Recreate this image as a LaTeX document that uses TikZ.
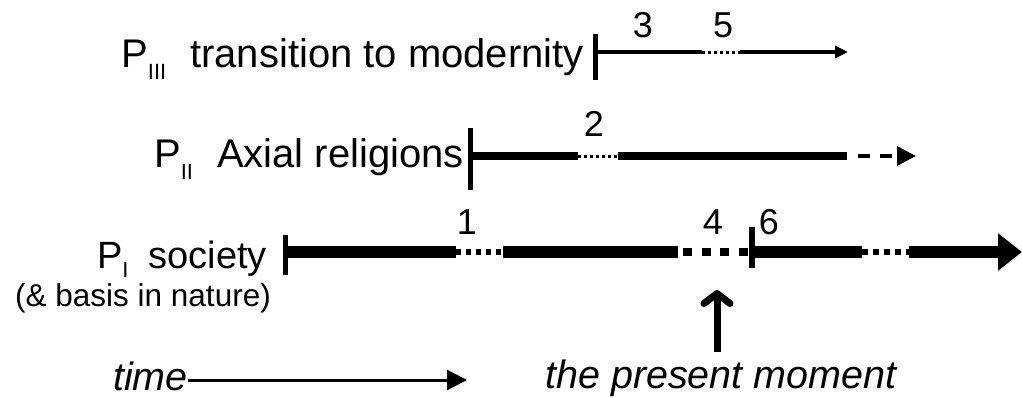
\documentclass[tikz,border=0pt]{standalone}
\usepackage{fontspec}
\setmainfont{Liberation Sans}
\usetikzlibrary{arrows.meta}
\newcommand{\sbs}[2][12pt]{\raisebox{-#1}{\fontsize{22}{22}\selectfont #2}}
\begin{document}
\begin{tikzpicture}[x=1pt,y=-1pt,
  lbl/.style={inner sep=0pt, font=\fontsize{40}{42}\selectfont},
  num/.style={inner sep=0pt, font=\fontsize{36}{38}\selectfont},
  tickmark/.style={line width=5pt},
  thin3/.style={line width=4pt},
  thick2/.style={line width=8.5pt},
  thick1/.style={line width=11.5pt},
  dotthin/.style={line width=3pt, dash pattern=on 3pt off 3pt},
]
\useasboundingbox (0,0) rectangle (1022,397);

% ---------- row III ----------
\node[lbl, anchor=base east] (t3) at (584,67) {P\sbs{III}\hspace{24pt}transition to modernity};
\coordinate (k3a) at (595.5,34); \coordinate (k3b) at (595.5,80);
\draw[tickmark] (k3a) -- (k3b);
\coordinate (c3a) at (595,52); \coordinate (c3b) at (702,52);
\coordinate (c3c) at (740,52); \coordinate (c3d) at (848,52);
\draw[thin3] (c3a) -- (c3b);
\draw[dotthin] (c3b) -- (c3c);
\draw[thin3, -{Triangle[length=13pt,width=12pt]}] (c3c) -- (c3d);
\node[num] (n3) at (643,25) {3};
\node[num] (n5) at (723,25) {5};

% ---------- row II ----------
\node[lbl, anchor=base east] (t2) at (464,167) {P\sbs{II}\hspace{24pt}Axial religions};
\coordinate (k2a) at (470,128); \coordinate (k2b) at (470,190);
\draw[tickmark] (k2a) -- (k2b);
\coordinate (c2a) at (470,156); \coordinate (c2b) at (578,156);
\coordinate (c2c) at (618,156); \coordinate (c2d) at (847,156);
\coordinate (c2e) at (858,156); \coordinate (c2f) at (916,156);
\draw[thick2] (c2a) -- (c2b);
\draw[dotthin] (c2b) -- (c2c);
\draw[thick2] (c2c) -- (c2d);
\draw[line width=3.5pt, dash pattern=on 12pt off 10pt, -{Triangle[length=19pt,width=19pt]}] (c2e) -- (c2f);
\node[num] (n2) at (594,124) {2};

% ---------- row I ----------
\node[lbl, anchor=base east, font=\fontsize{38}{40}\selectfont] (t1) at (267,268) {P\sbs[9pt]{I}\hspace{20pt}society};
\node[inner sep=0pt, anchor=base west, font=\fontsize{31.5}{34}\selectfont] (t1b) at (15,306) {(\& basis in nature)};
\coordinate (k1a) at (285,235); \coordinate (k1b) at (285,275);
\draw[tickmark] (k1a) -- (k1b);
\coordinate (c1a) at (285,252); \coordinate (c1b) at (456,252);
\coordinate (c1c) at (503,252); \coordinate (c1d) at (678,252);
\coordinate (c1e) at (683,252); \coordinate (c1f) at (748,252);
\coordinate (c1g) at (755,252); \coordinate (c1h) at (862,252);
\coordinate (c1i) at (909,252); \coordinate (c1j) at (1022,252);
\draw[thick1] (c1a) -- (c1b);
\draw[line width=6pt, dash pattern=on 5pt off 5pt] (c1b) -- (c1c);
\draw[thick1] (c1c) -- (c1d);
\draw[line width=8pt, dash pattern=on 9pt off 9.5pt] (c1e) -- (c1f);
\coordinate (k1c) at (751.5,227); \coordinate (k1d) at (751.5,268);
\draw[line width=6pt] (k1c) -- (k1d);
\draw[thick1] (c1g) -- (c1h);
\draw[line width=6pt, dash pattern=on 6pt off 5pt] (c1h) -- (c1i);
\draw[thick1, -{Triangle[length=24pt,width=36pt]}] (c1i) -- (c1j);
\node[num] (n1) at (467,222) {1};
\node[num] (n4) at (713,222) {4};
\node[num] (n6) at (769,222) {6};

% ---------- bottom ----------
\node[lbl, anchor=base west, font=\fontsize{39.5}{40}\selectfont\itshape] (tm) at (113,390) {time};
\coordinate (ta) at (188,380); \coordinate (tb) at (467,380);
\draw[line width=3pt, -{Triangle[length=20pt,width=20pt]}] (ta) -- (tb);
\node[lbl, anchor=base west, font=\fontsize{39.5}{40}\selectfont\itshape] (pm) at (545,388) {the present moment};
\coordinate (pa) at (717,352); \coordinate (pb) at (717,290);
\draw[line width=7pt, -{Straight Barb[length=10pt,width=26pt,line cap=round,line join=round]}] (pa) -- (pb);
\end{tikzpicture}
\end{document}
